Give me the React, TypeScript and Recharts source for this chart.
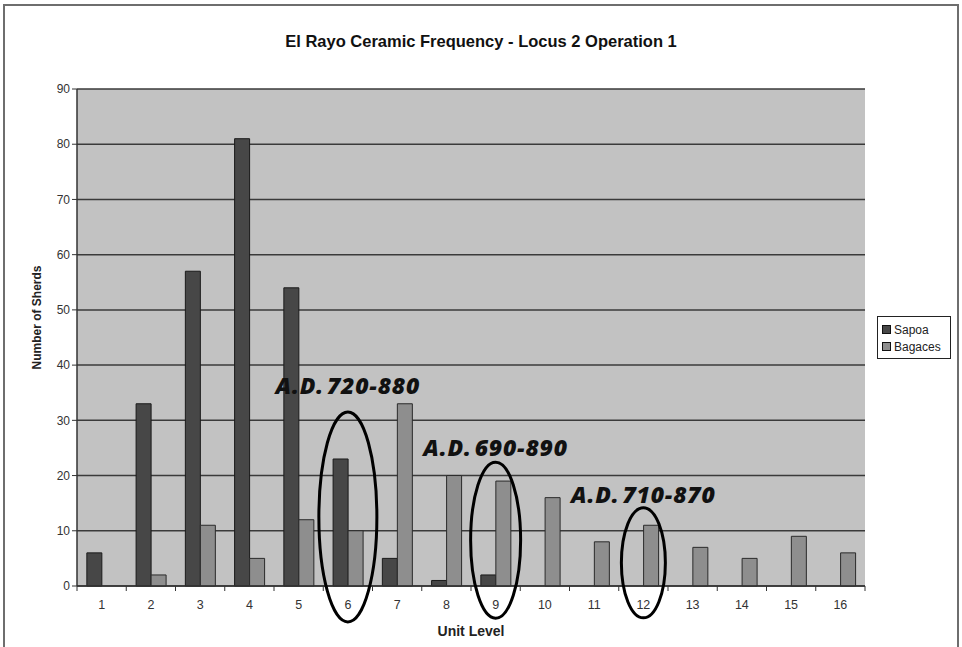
import React from 'react';
import { BarChart, Bar, XAxis, YAxis, CartesianGrid, Legend, ReferenceDot } from 'recharts';

const levels = ['1', '2', '3', '4', '5', '6', '7', '8', '9', '10', '11', '12', '13', '14', '15', '16'];
const sapoa = [6, 33, 57, 81, 54, 23, 5, 1, 2, 0, 0, 0, 0, 0, 0, 0];
const bagaces = [0, 2, 11, 5, 12, 10, 33, 20, 19, 16, 8, 11, 7, 5, 9, 6];
const yTicks = [0, 10, 20, 30, 40, 50, 60, 70, 80, 90];

// date ranges circled on the chart: level, text height, ellipse center
const datings = [
  { level: '6', text: 'A.D. 720-880', textY: 36.4, ringY: 12.5, rx: 29, ry: 105 },
  { level: '9', text: 'A.D. 690-890', textY: 25.2, ringY: 8.3, rx: 25, ry: 78 },
  { level: '12', text: 'A.D. 710-870', textY: 16.7, ringY: 4.2, rx: 22, ry: 55 },
];

const data = levels.map((level, i) => ({ level, Sapoa: sapoa[i], Bagaces: bagaces[i] }));

const font = '"Liberation Sans", Arial, sans-serif';
const SAPOA = '#474747';
const BAGACES = '#8e8e8e';

// excel style: tick marks sit between the categories, not under them
const LevelTick = (props: any) => {
  const { x, y, payload, index, visibleTicksCount, width } = props;
  const half = payload.offset || width / visibleTicksCount / 2;
  const axisY = y - 14;
  return (
    <g>
      <line x1={x - half} x2={x - half} y1={axisY} y2={axisY + 5} stroke="#333" />
      {index === visibleTicksCount - 1 && <line x1={x + half} x2={x + half} y1={axisY} y2={axisY + 5} stroke="#333" />}
      <text x={x} y={y} dy="0.71em" textAnchor="middle" fontSize={12.5} fill="#333" fontFamily={font}>
        {payload.value}
      </text>
    </g>
  );
};

const LegendBox = () => (
  <div style={{ width: 74, height: 43, border: '1px solid #222', background: '#fff', fontFamily: font, fontSize: 12, color: '#222', boxSizing: 'border-box', padding: '4px 0 0 4px' }}>
    {[['Sapoa', SAPOA], ['Bagaces', BAGACES]].map(([name, color]) => (
      <div key={name} style={{ display: 'flex', alignItems: 'center', height: 17 }}>
        <span style={{ width: 7, height: 7, background: color, border: '1px solid #111', marginRight: 3 }} />
        {name}
      </div>
    ))}
  </div>
);

const App = () => {
  return (
    <div style={{ position: 'absolute', left: 0, top: 0, width: 962, height: 647, overflow: 'hidden', background: '#fff' }}>
      <div style={{ position: 'absolute', left: 3, top: 4, width: 952, height: 700, border: '2px solid #6e6e6e' }} />
      <div style={{ position: 'absolute', left: 0, top: 32, width: 962, textAlign: 'center', fontFamily: font, fontWeight: 'bold', fontSize: 16.5, color: '#111' }}>
        El Rayo Ceramic Frequency - Locus 2 Operation 1
      </div>
      <div style={{ position: 'absolute', left: 0, top: 0 }}>
        <BarChart width={962} height={647} data={data} margin={{ top: 89, right: 97, bottom: 0, left: 0 }} barCategoryGap="20%" barGap={0}>
          <CartesianGrid vertical={false} fill="#c2c2c2" stroke="#3a3a3a" strokeWidth={1.5} />
          <XAxis
            dataKey="level"
            height={61}
            tickLine={false}
            tickSize={6}
            tickMargin={8}
            interval={0}
            axisLine={{ stroke: '#333', strokeWidth: 1.5 }}
            tick={<LevelTick />}
            label={{ value: 'Unit Level', position: 'insideBottom', offset: 11, fontSize: 14, fontWeight: 'bold', fill: '#222', fontFamily: font }}
          />
          <YAxis
            width={77}
            domain={[0, 90]}
            ticks={yTicks}
            interval={0}
            tickSize={5}
            axisLine={{ stroke: '#333', strokeWidth: 1.5 }}
            tickLine={{ stroke: '#333' }}
            tick={{ fontSize: 12, fill: '#333', fontFamily: font }}
            label={{
              content: ({ viewBox }: any) => {
                const x = viewBox.x + 37;
                const y = viewBox.y + viewBox.height / 2 - 20;
                return (
                  <text x={x} y={y} transform={`rotate(-90 ${x} ${y})`} textAnchor="middle" dominantBaseline="central" fontSize={12} fontWeight="bold" fill="#222" fontFamily={font}>
                    Number of Sherds
                  </text>
                );
              },
            }}
          />
          <Legend
            layout="vertical"
            align="center"
            verticalAlign="middle"
            wrapperStyle={{ left: 877, top: 316, width: 74 }}
            content={() => <LegendBox />}
          />
          <Bar dataKey="Sapoa" fill={SAPOA} stroke="#1a1a1a" strokeWidth={1} isAnimationActive={false} />
          <Bar dataKey="Bagaces" fill={BAGACES} stroke="#2a2a2a" strokeWidth={1} isAnimationActive={false} />
          {datings.map((d) => (
            <ReferenceDot
              key={'ring' + d.level}
              x={d.level}
              y={d.ringY}
              ifOverflow="visible"
              shape={(p: any) => <ellipse cx={p.cx} cy={p.cy} rx={d.rx} ry={d.ry} fill="none" stroke="#000" strokeWidth={3} />}
            />
          ))}
          {datings.map((d) => (
            <ReferenceDot
              key={'text' + d.level}
              x={d.level}
              y={d.textY}
              ifOverflow="visible"
              shape={(p: any) => (
                <text x={p.cx} y={p.cy} textAnchor="middle" dominantBaseline="central" fontFamily='"Open Sans", sans-serif' fontStyle="italic" fontWeight={800} fontSize={23} letterSpacing={0.8} wordSpacing={-4} fill="#111">
                  {d.text}
                </text>
              )}
            />
          ))}
        </BarChart>
      </div>
    </div>
  );
};

export default App;
